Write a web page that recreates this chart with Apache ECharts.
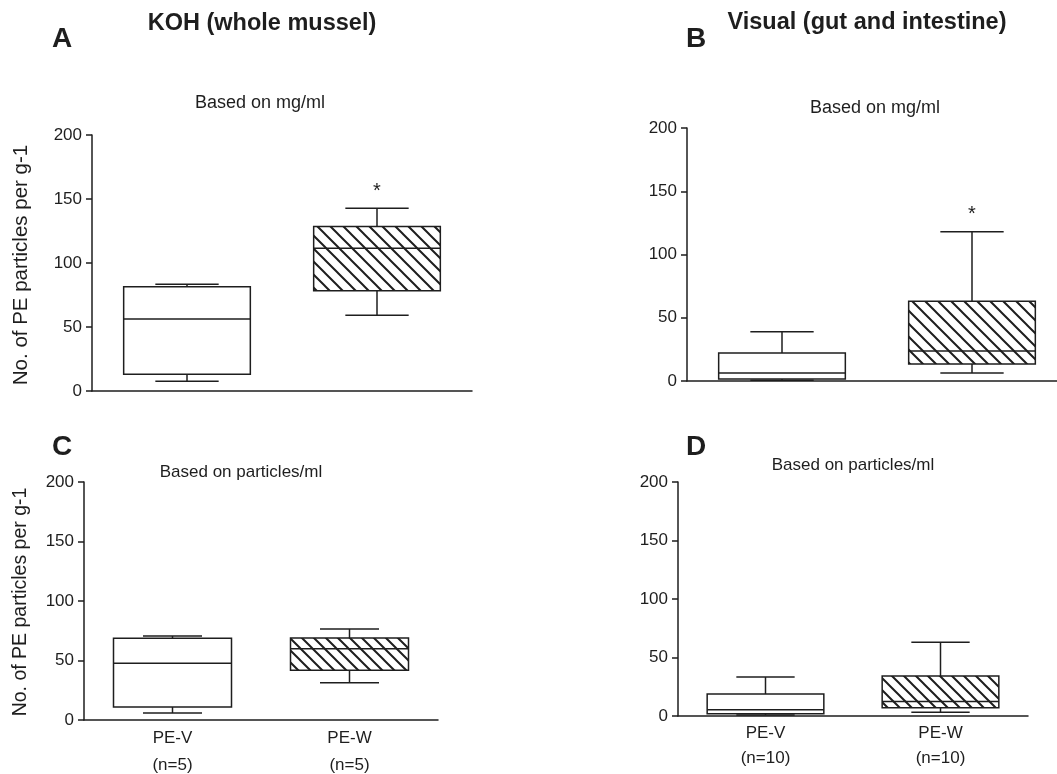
<!DOCTYPE html>
<html><head><meta charset="utf-8">
<script src="https://cdn.jsdelivr.net/npm/echarts@6.0.0/dist/echarts.min.js"></script>
<style>html,body{margin:0;padding:0;background:#fff}#c{width:1057px;height:774px}</style>
</head><body><div id="c"></div>
<script>
// ---- data ----
const categories = ['PE-V', 'PE-W'];
const sampleSizesC = ['(n=5)', '(n=5)'];
const sampleSizesD = ['(n=10)', '(n=10)'];
const yTicks = [0, 50, 100, 150, 200];
// [min, Q1, median, Q3, max] per category
const boxA = [[7.6, 13.0, 56.3, 81.5, 83.4], [59.1, 78.4, 111.5, 128.6, 142.7]];
const boxB = [[0.5, 1.6, 6.3, 22.1, 38.9], [6.3, 13.4, 23.7, 63.1, 117.9]];
const boxC = [[5.9, 10.9, 47.6, 68.6, 70.6], [31.3, 41.8, 59.9, 68.9, 76.5]];
const boxD = [[0.9, 2.0, 5.4, 18.8, 33.3], [3.1, 7.1, 12.5, 34.1, 63.1]];
const sigA = ['', '*'];
const sigB = ['', '*'];
const sigC = ['', ''];
const sigD = ['', ''];

// ---- styles ----
const INK = '#1e1e1e';
const LW = 1.5;
const FONT = '"Liberation Sans", Arial, sans-serif';

function makeHatch(s) {
  const c = document.createElement('canvas');
  c.width = s; c.height = s;
  const g = c.getContext('2d');
  g.fillStyle = '#fff'; g.fillRect(0, 0, s, s);
  g.strokeStyle = INK; g.lineWidth = 2;
  g.beginPath();
  for (let k = -1; k <= 1; k++) {
    g.moveTo(k * s - 2, -2);
    g.lineTo(k * s + s + 2, s + 2);
  }
  g.stroke();
  return c;
}
const hatchTop = makeHatch(13);
const hatchBot = makeHatch(12);

function makeRender(stars, hatch) {
  return function (params, api) {
    const i = api.value(0);
    const v = [1, 2, 3, 4, 5].map(k => api.value(k));
    const cx = api.coord([i, v[0]])[0];
    const y = v.map(val => api.coord([i, val])[1]);
    const bw = api.size([1, 0])[0] * 2 / 3;
    const cw = bw / 2;
    const ls = { stroke: INK, lineWidth: LW };
    const children = [
      { type: 'line', shape: { x1: cx, y1: y[3], x2: cx, y2: y[4] }, style: ls },
      { type: 'line', shape: { x1: cx - cw / 2, y1: y[4], x2: cx + cw / 2, y2: y[4] }, style: ls },
      { type: 'line', shape: { x1: cx, y1: y[1], x2: cx, y2: y[0] }, style: ls },
      { type: 'line', shape: { x1: cx - cw / 2, y1: y[0], x2: cx + cw / 2, y2: y[0] }, style: ls },
      { type: 'rect', shape: { x: cx - bw / 2, y: y[3], width: bw, height: y[1] - y[3] },
        style: { fill: i === 1 ? { image: hatch, repeat: 'repeat' } : '#fff', stroke: INK, lineWidth: LW } },
      { type: 'line', shape: { x1: cx - bw / 2, y1: y[2], x2: cx + bw / 2, y2: y[2] }, style: ls }
    ];
    if (stars[i]) {
      children.push({ type: 'text', x: cx, y: y[4] - 17,
        style: { text: stars[i], font: '20px ' + FONT, fill: INK, textAlign: 'center', textVerticalAlign: 'middle' } });
    }
    return { type: 'group', children };
  };
}

const grids = [
  { left: 92, top: 135, width: 380, height: 256 },
  { left: 687, top: 128, width: 380, height: 253 },
  { left: 84, top: 482, width: 354, height: 238 },
  { left: 678, top: 482, width: 350, height: 234 }
].map(g => Object.assign({ outerBoundsMode: 'none', containLabel: false }, g));

const axisLine = { show: true, lineStyle: { color: INK, width: LW } };
const labels = [null, null, sampleSizesC, sampleSizesD];
const xAxes = labels.map((lab, k) => ({
  type: 'category', gridIndex: k, data: categories, boundaryGap: true,
  axisLine, axisTick: { show: false }, splitLine: { show: false },
  axisLabel: lab ? {
    show: true, color: INK, fontFamily: FONT, fontSize: 17,
    lineHeight: k === 2 ? 27 : 25, margin: 5,
    formatter: (val, idx) => val + '\n' + lab[idx]
  } : { show: false }
}));
const yAxes = [0, 1, 2, 3].map(k => ({
  type: 'value', gridIndex: k, min: yTicks[0], max: yTicks[yTicks.length - 1],
  interval: yTicks[1] - yTicks[0],
  axisLine, axisTick: { show: true, inside: false, length: 6, lineStyle: { color: INK, width: LW } },
  splitLine: { show: false },
  axisLabel: { color: INK, fontFamily: FONT, fontSize: 17, margin: 10 }
}));

const panels = [[boxA, sigA, hatchTop], [boxB, sigB, hatchTop], [boxC, sigC, hatchBot], [boxD, sigD, hatchBot]];
const series = panels.map(([box, sig, hatch], k) => ({
  type: 'custom', xAxisIndex: k, yAxisIndex: k,
  renderItem: makeRender(sig, hatch),
  encode: { x: 0, y: [1, 2, 3, 4, 5] },
  data: categories.map((c, j) => [j].concat(box[j])),
  silent: true, animation: false
}));

function txt(text, x, y, size, bold, rot) {
  return { type: 'text', x, y, rotation: rot || 0,
    style: { text, font: (bold ? 'bold ' : '') + size + 'px ' + FONT, fill: INK,
      textAlign: 'center', textVerticalAlign: 'middle' } };
}
const graphic = [
  txt('A', 62, 39, 28, true),
  txt('KOH (whole mussel)', 262, 24, 23.5, true),
  txt('Based on mg/ml', 260, 103, 18),
  txt('B', 696, 39, 28, true),
  txt('Visual (gut and intestine)', 867, 23, 23.5, true),
  txt('Based on mg/ml', 875, 108, 18),
  txt('C', 62, 447, 28, true),
  txt('Based on particles/ml', 241, 472, 17),
  txt('D', 696, 447, 28, true),
  txt('Based on particles/ml', 853, 465, 17),
  txt('No. of PE particles per g-1', 21, 265, 20.5, false, Math.PI / 2),
  txt('No. of PE particles per g-1', 21, 602, 19.5, false, Math.PI / 2)
];

const chart = echarts.init(document.getElementById('c'), null, { renderer: 'canvas' });
chart.setOption({
  backgroundColor: '#fff',
  animation: false,
  grid: grids, xAxis: xAxes, yAxis: yAxes, series, graphic
});
</script></body></html>
